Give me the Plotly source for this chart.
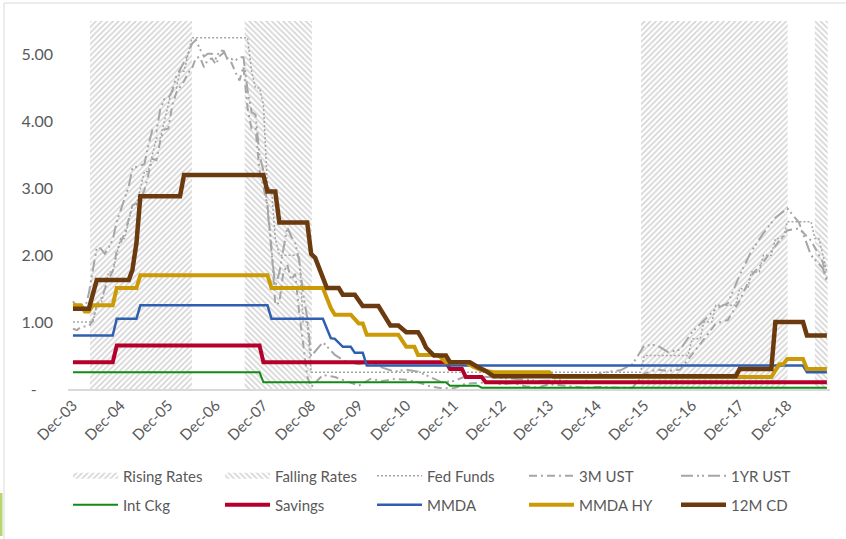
import pandas as pd
import plotly.graph_objects as go

# ---------------- data ----------------
X_TICK_VALS = ["2003-12-01", "2004-12-01", "2005-12-01", "2006-12-01", "2007-12-01", "2008-12-01",
               "2009-12-01", "2010-12-01", "2011-12-01", "2012-12-01", "2013-12-01", "2014-12-01",
               "2015-12-01", "2016-12-01", "2017-12-01", "2018-12-01"]
X_TICK_TEXT = ["Dec-03", "Dec-04", "Dec-05", "Dec-06", "Dec-07", "Dec-08", "Dec-09", "Dec-10",
               "Dec-11", "Dec-12", "Dec-13", "Dec-14", "Dec-15", "Dec-16", "Dec-17", "Dec-18"]
Y_TICK_VALS = [0, 1, 2, 3, 4, 5]
Y_TICK_TEXT = ["-\u00a0\u00a0\u00a0\u00a0", "1.00", "2.00", "3.00", "4.00", "5.00"]

SHADE_TOP = 5.5
RISING_START = ["2004-04-10", "2015-11-05"]
RISING_END = ["2006-06-01", "2018-12-04"]
FALLING_START = ["2007-07-10", "2019-07-01"]
FALLING_END = ["2008-12-07", "2019-10-07"]

FED_DATES = ["2003-12", "2004-05", "2004-06", "2004-07", "2004-08", "2004-09", "2004-10", "2004-11",
             "2004-12", "2005-01", "2005-02", "2005-03", "2005-04", "2005-05", "2005-06", "2005-07",
             "2005-08", "2005-09", "2005-10", "2005-11", "2005-12", "2006-01", "2006-02", "2006-03",
             "2006-04", "2006-05", "2006-06", "2007-08", "2007-09", "2007-10", "2007-11", "2007-12",
             "2008-01", "2008-02", "2008-03", "2008-04", "2008-09", "2008-10", "2008-11", "2008-12",
             "2015-11", "2015-12", "2016-11", "2016-12", "2017-02", "2017-03", "2017-05", "2017-06",
             "2017-11", "2017-12", "2018-02", "2018-03", "2018-05", "2018-06", "2018-08", "2018-09",
             "2018-11", "2018-12", "2019-06", "2019-07", "2019-08", "2019-09", "2019-10"]
FED_FUNDS = [1.00, 1.00, 1.25, 1.25, 1.50, 1.75, 1.75, 2.00,
             2.25, 2.25, 2.50, 2.75, 2.75, 3.00, 3.25, 3.25,
             3.50, 3.75, 3.75, 4.00, 4.25, 4.50, 4.50, 4.75,
             4.75, 5.00, 5.25, 5.25, 4.75, 4.50, 4.50, 4.25,
             3.00, 3.00, 2.25, 2.00, 2.00, 1.00, 1.00, 0.25,
             0.25, 0.50, 0.50, 0.75, 0.75, 1.00, 1.00, 1.25,
             1.25, 1.50, 1.50, 1.75, 1.75, 2.00, 2.00, 2.25,
             2.25, 2.50, 2.50, 2.25, 2.25, 2.00, 1.75]

UST_DATES = ["2003-12",
             "2004-01", "2004-02", "2004-03", "2004-04", "2004-05", "2004-06",
             "2004-07", "2004-08", "2004-09", "2004-10", "2004-11", "2004-12",
             "2005-01", "2005-02", "2005-03", "2005-04", "2005-05", "2005-06",
             "2005-07", "2005-08", "2005-09", "2005-10", "2005-11", "2005-12",
             "2006-01", "2006-02", "2006-03", "2006-04", "2006-05", "2006-06",
             "2006-07", "2006-08", "2006-09", "2006-10", "2006-11", "2006-12",
             "2007-01", "2007-02", "2007-03", "2007-04", "2007-05", "2007-06",
             "2007-07", "2007-08", "2007-09", "2007-10", "2007-11", "2007-12",
             "2008-01", "2008-02", "2008-03", "2008-04", "2008-05", "2008-06",
             "2008-07", "2008-08", "2008-09", "2008-10", "2008-11", "2008-12",
             "2009-03", "2009-06", "2009-09", "2009-12", "2010-03", "2010-06", "2010-09", "2010-12",
             "2011-03", "2011-06", "2011-09", "2011-12", "2012-03", "2012-06", "2012-09", "2012-12",
             "2013-03", "2013-06", "2013-09", "2013-12", "2014-03", "2014-06", "2014-09", "2014-12",
             "2015-03", "2015-06", "2015-09", "2015-12", "2016-03", "2016-06", "2016-09", "2016-12",
             "2017-03", "2017-06", "2017-09", "2017-12", "2018-03", "2018-06", "2018-09", "2018-12",
             "2019-03", "2019-06", "2019-09", "2019-10"]
UST_3M = [0.90,
          0.88, 0.93, 0.94, 0.94, 1.02, 1.27,
          1.33, 1.48, 1.65, 1.76, 2.07, 2.19,
          2.33, 2.54, 2.74, 2.78, 2.84, 2.97,
          3.22, 3.44, 3.42, 3.71, 3.88, 3.89,
          4.24, 4.43, 4.51, 4.60, 4.72, 4.79,
          4.95, 4.96, 4.81, 4.92, 4.94, 4.85,
          4.98, 5.03, 4.94, 4.87, 4.73, 4.61,
          4.82, 4.20, 3.89, 3.90, 3.27, 3.00,
          2.75, 2.12, 1.26, 1.29, 1.73, 1.86,
          1.63, 1.72, 1.13, 0.67, 0.19, 0.03,
          0.21, 0.18, 0.12, 0.05, 0.15, 0.12, 0.15, 0.14,
          0.10, 0.04, 0.01, 0.01, 0.08, 0.09, 0.10, 0.07,
          0.09, 0.04, 0.02, 0.07, 0.05, 0.03, 0.02, 0.03,
          0.02, 0.02, 0.02, 0.23, 0.29, 0.27, 0.29, 0.51,
          0.74, 0.98, 1.03, 1.32, 1.70, 1.90, 2.13, 2.37,
          2.40, 2.22, 1.89, 1.65]
UST_1Y = [1.31,
          1.24, 1.24, 1.19, 1.43, 1.78, 2.12,
          2.10, 2.02, 2.12, 2.23, 2.50, 2.67,
          2.86, 3.03, 3.30, 3.32, 3.33, 3.36,
          3.64, 3.87, 3.85, 4.18, 4.33, 4.35,
          4.45, 4.68, 4.77, 4.90, 5.00, 5.16,
          5.22, 5.08, 4.97, 5.01, 5.01, 4.94,
          5.06, 5.05, 4.92, 4.93, 4.91, 4.96,
          4.96, 4.47, 4.14, 4.10, 3.50, 3.26,
          2.71, 2.05, 1.54, 1.74, 2.06, 2.42,
          2.28, 2.18, 1.91, 1.42, 1.07, 0.49,
          0.70, 0.51, 0.40, 0.37, 0.40, 0.32, 0.26, 0.29,
          0.26, 0.18, 0.10, 0.12, 0.19, 0.19, 0.18, 0.16,
          0.15, 0.14, 0.12, 0.13, 0.13, 0.10, 0.11, 0.21,
          0.26, 0.28, 0.37, 0.65, 0.66, 0.55, 0.59, 0.85,
          1.03, 1.20, 1.28, 1.70, 2.06, 2.33, 2.56, 2.70,
          2.49, 2.00, 1.80, 1.61]

INTCKG_DATES = ["2003-12", "2007-11", "2007-12", "2011-10", "2011-11", "2012-06", "2012-07", "2019-10"]
INT_CKG = [0.25, 0.25, 0.10, 0.10, 0.05, 0.05, 0.02, 0.02]

SAVINGS_DATES = ["2003-12", "2004-10", "2004-11", "2007-11", "2007-12", "2011-10", "2011-11",
                 "2012-02", "2012-03", "2012-07", "2012-08", "2019-10"]
SAVINGS = [0.40, 0.40, 0.65, 0.65, 0.40, 0.40, 0.30, 0.30, 0.18, 0.18, 0.10, 0.10]

MMDA_DATES = ["2003-12", "2004-10", "2004-11", "2005-04", "2005-05", "2008-01", "2008-02", "2009-03",
              "2009-05", "2009-06", "2009-08", "2009-10", "2009-11", "2010-01", "2010-02", "2019-04",
              "2019-05", "2019-10"]
MMDA = [0.80, 0.80, 1.05, 1.05, 1.25, 1.25, 1.05, 1.05,
        0.76, 0.75, 0.63, 0.63, 0.54, 0.54, 0.35, 0.35,
        0.25, 0.25]

MMDAHY_DATES = ["2003-12", "2004-02", "2004-03", "2004-04", "2004-05", "2004-10", "2004-11", "2005-04",
                "2005-05", "2008-01", "2008-02", "2009-03", "2009-05", "2009-06", "2009-10", "2009-12",
                "2010-01", "2010-02", "2010-10", "2010-12", "2011-02", "2011-03", "2011-08", "2011-10",
                "2012-03", "2012-05", "2012-07", "2012-10", "2013-12", "2014-01", "2018-08", "2018-10",
                "2018-11", "2018-12", "2019-04", "2019-05", "2019-10"]
MMDA_HY = [1.25, 1.25, 1.16, 1.16, 1.25, 1.25, 1.51, 1.51,
           1.70, 1.70, 1.51, 1.51, 1.21, 1.11, 1.11, 0.98,
           0.98, 0.81, 0.81, 0.63, 0.63, 0.51, 0.51, 0.40,
           0.40, 0.33, 0.28, 0.25, 0.25, 0.18, 0.18, 0.37,
           0.37, 0.45, 0.45, 0.30, 0.30]

CD_DATES = ["2003-12", "2004-04", "2004-06", "2005-02", "2005-03", "2005-04", "2005-05", "2006-03",
            "2006-04", "2007-12", "2008-01", "2008-03", "2008-04", "2008-11", "2008-12", "2009-01",
            "2009-04", "2009-07", "2009-08", "2009-11", "2010-01", "2010-05", "2010-08", "2010-10",
            "2010-12", "2011-03", "2011-04", "2011-05", "2011-07", "2011-10", "2011-11", "2012-04",
            "2012-06", "2012-08", "2012-10", "2017-11", "2017-12", "2018-08", "2018-09", "2019-04",
            "2019-05", "2019-10"]
CD_12M = [1.20, 1.20, 1.63, 1.63, 1.78, 2.18, 2.88, 2.88,
          3.20, 3.20, 2.95, 2.95, 2.49, 2.49, 2.02, 1.96,
          1.51, 1.51, 1.41, 1.41, 1.24, 1.24, 0.95, 0.95,
          0.85, 0.85, 0.75, 0.62, 0.50, 0.50, 0.40, 0.40,
          0.33, 0.27, 0.19, 0.19, 0.30, 0.30, 1.00, 1.00,
          0.80, 0.80]

# ---------------- figure ----------------
FONT = "Lato, 'Open Sans', sans-serif"
TXT = "#595959"
GRAY = "#A6A6A6"
HATCH = "#A8A8A8"
PLOT_L, PLOT_T, PLOT_W, PLOT_H = 68, 21, 762, 368


def band_polygons(starts, ends, top):
    """Closed rectangles (one per period) as x / y lists with gaps between them."""
    xs, ys = [], []
    for a, b in zip(pd.to_datetime(starts), pd.to_datetime(ends)):
        xs += [a, a, b, b, a, None]
        ys += [0, top, top, 0, 0, None]
    return xs, ys


def px_x(px):
    return (px - PLOT_L) / PLOT_W


def px_y(py):
    return (PLOT_T + PLOT_H - py) / PLOT_H


fig = go.Figure()

bx, by = band_polygons(RISING_START, RISING_END, SHADE_TOP)
fig.add_trace(go.Scatter(x=bx, y=by, name="Rising Rates", mode="none", fill="toself",
                         fillcolor="white",
                         fillpattern=dict(shape="/", fgcolor=HATCH, bgcolor="white",
                                          size=4, solidity=0.4),
                         hoverinfo="skip", legend="legend"))
bx, by = band_polygons(FALLING_START, FALLING_END, SHADE_TOP)
fig.add_trace(go.Scatter(x=bx, y=by, name="Falling Rates", mode="none", fill="toself",
                         fillcolor="white",
                         fillpattern=dict(shape="\\", fgcolor=HATCH, bgcolor="white",
                                          size=4, solidity=0.4),
                         hoverinfo="skip", legend="legend"))

fig.add_trace(go.Scatter(x=FED_DATES, y=FED_FUNDS, name="Fed Funds", mode="lines",
                         line=dict(color=GRAY, width=1.5, dash="2px,2px"), legend="legend"))
fig.add_trace(go.Scatter(x=UST_DATES, y=UST_3M, name="3M UST", mode="lines",
                         line=dict(color=GRAY, width=2, dash="8px,4px,2px,4px"), legend="legend"))
fig.add_trace(go.Scatter(x=UST_DATES, y=UST_1Y, name="1YR UST", mode="lines",
                         line=dict(color=GRAY, width=2, dash="12px,4px,2px,3px,2px,4px"),
                         legend="legend"))

fig.add_trace(go.Scatter(x=INTCKG_DATES, y=INT_CKG, name="Int Ckg", mode="lines",
                         line=dict(color="#138A13", width=2), legend="legend2"))
fig.add_trace(go.Scatter(x=SAVINGS_DATES, y=SAVINGS, name="Savings", mode="lines",
                         line=dict(color="#B4002A", width=4), legend="legend2"))
fig.add_trace(go.Scatter(x=MMDA_DATES, y=MMDA, name="MMDA", mode="lines",
                         line=dict(color="#2F5FAE", width=2.5), legend="legend2"))
fig.add_trace(go.Scatter(x=MMDAHY_DATES, y=MMDA_HY, name="MMDA HY", mode="lines",
                         line=dict(color="#CC9A06", width=4), legend="legend2"))
fig.add_trace(go.Scatter(x=CD_DATES, y=CD_12M, name="12M CD", mode="lines",
                         line=dict(color="#6B3A0E", width=4.5), legend="legend2"))

legend_common = dict(orientation="h", xanchor="left", yanchor="middle", x=0.0,
                     font=dict(family=FONT, size=15, color=TXT), bgcolor="rgba(0,0,0,0)",
                     entrywidth=92, itemwidth=45, traceorder="normal")

fig.update_layout(
    width=846, height=539,
    margin=dict(l=PLOT_L, r=846 - PLOT_L - PLOT_W, t=PLOT_T, b=539 - PLOT_T - PLOT_H,
                autoexpand=False),
    paper_bgcolor="white", plot_bgcolor="white",
    showlegend=True,
    legend=dict(y=px_y(476), **legend_common),
    legend2=dict(y=px_y(505), **legend_common),
    xaxis=dict(type="date", range=["2003-10-24", "2019-10-25"], tickvals=X_TICK_VALS,
               ticktext=X_TICK_TEXT, tickangle=-45, showgrid=False, zeroline=False,
               showline=True, linecolor="#D9D9D9", linewidth=1.5, ticks="",
               tickfont=dict(family=FONT, size=15, color=TXT)),
    yaxis=dict(range=[0, 5.5], tickvals=Y_TICK_VALS, ticktext=Y_TICK_TEXT, showgrid=False,
               zeroline=False, showline=False, ticks="", ticklabelstandoff=14,
               tickfont=dict(family=FONT, size=16, color=TXT)),
    shapes=[
        dict(type="rect", xref="paper", yref="paper", x0=px_x(4), x1=px_x(870), y0=px_y(560),
             y1=px_y(3), line=dict(color="#D9D9D9", width=1), fillcolor="rgba(0,0,0,0)",
             layer="below"),
        dict(type="rect", xref="paper", yref="paper", x0=px_x(0), x1=px_x(2.5), y0=px_y(536),
             y1=px_y(493), line=dict(width=0), fillcolor="#B7D66E", layer="above"),
    ],
)

fig.write_html("out.html", config={"displayModeBar": False},
               post_script="document.body.style.margin='0';")
